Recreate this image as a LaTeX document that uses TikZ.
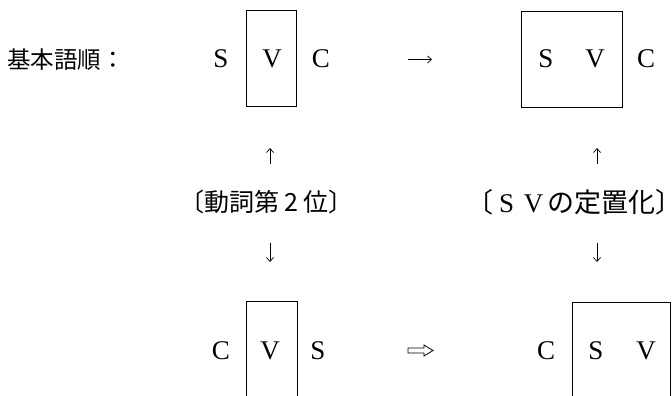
\documentclass[tikz,border=0pt]{standalone}
\usepackage{fontspec}
\setmainfont{Liberation Serif}
\newfontfamily\jp{Noto Sans CJK JP}
\newfontfamily\jph[RawFeature=+halt]{Noto Sans CJK JP}
\usetikzlibrary{arrows.meta}
\tikzset{
  letter/.style={font=\fontsize{27}{27}\selectfont, inner sep=0pt, anchor=base},
  jlab/.style={inner sep=0pt},
  boxst/.style={draw, line width=0.9pt, inner sep=0pt, anchor=north west},
  thinarrow/.style={line width=0.7pt, -{Straight Barb[length=4pt,width=7pt]}},
  hollow/.style={draw, line width=0.8pt, line join=miter}
}
\begin{document}
\begin{tikzpicture}[x=1pt,y=-1pt]
\useasboundingbox[fill=white] (0,0) rectangle (672,396);
\clip (0,0) rectangle (672,396);
% boxes
\node[boxst, minimum width=50pt, minimum height=96pt] (b1) at (246,10) {};
\node[boxst, minimum width=101pt, minimum height=96pt] (b2) at (521,11) {};
\node[boxst, minimum width=51pt, minimum height=120pt] (b3) at (246,301) {};
\node[boxst, minimum width=98pt, minimum height=120pt] (b4) at (572,302) {};
% labels
\node[jlab, anchor=west, font=\jp\fontsize{23.5}{23.5}\selectfont] (lab) at (7,59.5) {基本語順：};
\node[jlab, font=\jp\fontsize{25}{25}\selectfont] (m1) at (266.5,201.5) {{\jph 〔}動詞第\makebox[1em]{2}位{\jph 〕}};
\node[jlab, anchor=west, font=\jp\fontsize{27}{27}\selectfont] (m2) at (466,202) {〔\makebox[1em]{\rmfamily S}\makebox[1em]{\rmfamily V}の定置化{\jph 〕}};
% top row letters
\node[letter] (s1) at (221,68) {S};
\node[letter] (v1) at (272,68) {V};
\node[letter] (c1) at (321,68) {C};
\node[letter] (s2) at (546,68) {S};
\node[letter] (v2) at (595,68) {V};
\node[letter] (c2) at (646,68) {C};
% bottom row letters
\node[letter] (c3) at (221,359) {C};
\node[letter] (v3) at (270,359) {V};
\node[letter] (s3) at (318,359) {S};
\node[letter] (c4) at (546,359) {C};
\node[letter] (s4) at (596,359) {S};
\node[letter] (v4) at (646,359) {V};
% arrows
\coordinate (r1a) at (408,59.5);
\coordinate (r1b) at (432,59.5);
\draw[thinarrow] (r1a) -- (r1b);
\coordinate (u1a) at (270,164);
\coordinate (u1b) at (270,148);
\draw[thinarrow] (u1a) -- (u1b);
\coordinate (d1a) at (270,243);
\coordinate (d1b) at (270,262);
\draw[thinarrow] (d1a) -- (d1b);
\coordinate (u2a) at (597,164);
\coordinate (u2b) at (597,148);
\draw[thinarrow] (u2a) -- (u2b);
\coordinate (d2a) at (597,243);
\coordinate (d2b) at (597,262);
\draw[thinarrow] (d2a) -- (d2b);
% hollow double arrow
\draw[hollow] (408,348) -- (424,348) -- (424,345) -- (433,350.5) -- (424,356) -- (424,353) -- (408,353) -- cycle;
\end{tikzpicture}
\end{document}
